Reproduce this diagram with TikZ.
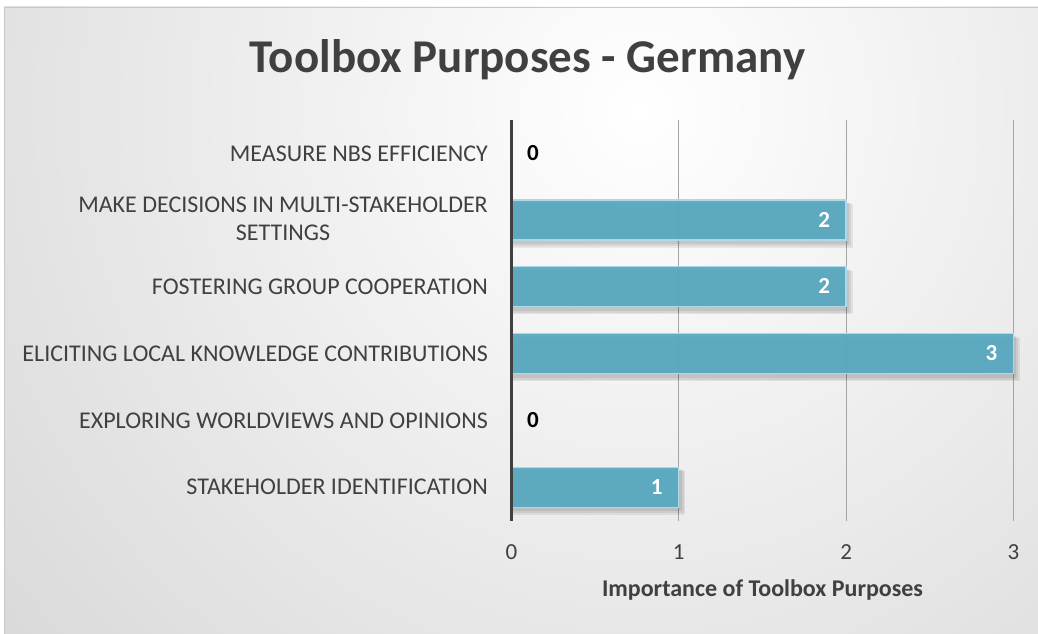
\documentclass[tikz,border=0pt]{standalone}
\usepackage{fontspec}
\setmainfont{Carlito}
\definecolor{barfill}{RGB}{86,168,192}
\definecolor{barline}{RGB}{176,216,228}
\definecolor{txt}{RGB}{64,64,64}
\definecolor{gridc}{RGB}{165,165,165}
\definecolor{axisc}{RGB}{64,64,64}
\definecolor{bgout}{RGB}{196,196,196}
\definecolor{framec}{RGB}{200,200,200}
\tikzset{
  catlabel/.style={anchor=base east, inner sep=0pt, text=txt, font=\fontsize{24}{28.5}\selectfont},
  ticklabel/.style={anchor=base, inner sep=0pt, text=txt, font=\fontsize{23}{26}\selectfont},
  inlabel/.style={anchor=base east, inner sep=0pt, text=white, font=\bfseries\fontsize{23}{26}\selectfont},
  zerolabel/.style={anchor=base, inner sep=0pt, text=black, font=\bfseries\fontsize{23}{26}\selectfont},
  barbox/.style={fill=barfill, fill opacity=0.93, draw=barline, line width=1.3pt},
  gridline/.style={draw=gridc, line width=1pt},
  shadowbox/.style={fill=black, opacity=0.07}
}
\begin{document}
\begin{tikzpicture}[x=1pt,y=-1pt]
\useasboundingbox (0,0) rectangle (1038,634);
\fill[white] (0,0) rectangle (1038,634);
% background
\begin{scope}
\clip (4,7) rectangle (1038,634);
\shade[inner color=white, outer color=bgout] (640,110) circle (1300);
\end{scope}
\draw[framec, line width=1pt] (4.5,634) -- (4.5,7.5) -- (1038,7.5);

% title
\node[anchor=base, inner sep=0pt, text=txt, font=\bfseries\fontsize{47}{52}\selectfont] (title) at (527.5,72.5) {Toolbox Purposes - Germany};

% gridlines
\coordinate (g1t) at (678.8,119.8); \coordinate (g1b) at (678.8,520.6);
\coordinate (g2t) at (846.1,119.8); \coordinate (g2b) at (846.1,520.6);
\coordinate (g3t) at (1013.4,119.8); \coordinate (g3b) at (1013.4,520.6);
\draw[gridline] (g1t) -- (g1b);
\draw[gridline] (g2t) -- (g2b);
\draw[gridline] (g3t) -- (g3b);

% shadows
\foreach \t/\e in {200/846.1, 266.8/846.1, 333.6/1013.4, 467.2/678.8}{
  \fill[shadowbox] (513,\t+2) rectangle (\e+3,\t+44);
  \fill[shadowbox] (513,\t+3) rectangle (\e+5,\t+46);
  \fill[shadowbox] (513,\t+4) rectangle (\e+6.5,\t+47.5);
}

% bars
\draw[barbox] (511.5,200) rectangle (846.1,240);
\draw[barbox] (511.5,266.8) rectangle (846.1,306.8);
\draw[barbox] (511.5,333.6) rectangle (1013.4,373.6);
\draw[barbox] (511.5,467.2) rectangle (678.8,507.2);

% axis
\coordinate (at) at (511,119.8); \coordinate (ab) at (511,520.6);
\draw[axisc, line width=3pt] (at) -- (ab);

% data labels
\node[zerolabel] (d6) at (533,160.5) {0};
\node[inlabel] (d5) at (830.1,227) {2};
\node[inlabel] (d4) at (830.1,293.8) {2};
\node[inlabel] (d3) at (997.4,360.6) {3};
\node[zerolabel] (d2) at (533,427.5) {0};
\node[inlabel] (d1) at (662.8,494.2) {1};

% category labels
\node[catlabel] (c6) at (488,161) {MEASURE NBS EFFICIENCY};
\node[anchor=east, inner sep=0pt, text=txt, align=center, font=\fontsize{24}{28.5}\selectfont] (c5) at (488,219) {MAKE DECISIONS IN MULTI-STAKEHOLDER\\SETTINGS};
\node[catlabel] (c4) at (488,294.5) {FOSTERING GROUP COOPERATION};
\node[catlabel] (c3) at (488,361.3) {ELICITING LOCAL KNOWLEDGE CONTRIBUTIONS};
\node[catlabel] (c2) at (488,428.1) {EXPLORING WORLDVIEWS AND OPINIONS};
\node[catlabel] (c1) at (488,494.9) {STAKEHOLDER IDENTIFICATION};

% tick labels
\node[ticklabel] (t0) at (511.5,559.5) {0};
\node[ticklabel] (t1) at (678.8,559.5) {1};
\node[ticklabel] (t2) at (846.1,559.5) {2};
\node[ticklabel] (t3) at (1013.4,559.5) {3};

% axis title
\node[anchor=base, inner sep=0pt, text=txt, font=\bfseries\fontsize{24}{28}\selectfont] (xt) at (762.5,596) {Importance of Toolbox Purposes};
\end{tikzpicture}
\end{document}
